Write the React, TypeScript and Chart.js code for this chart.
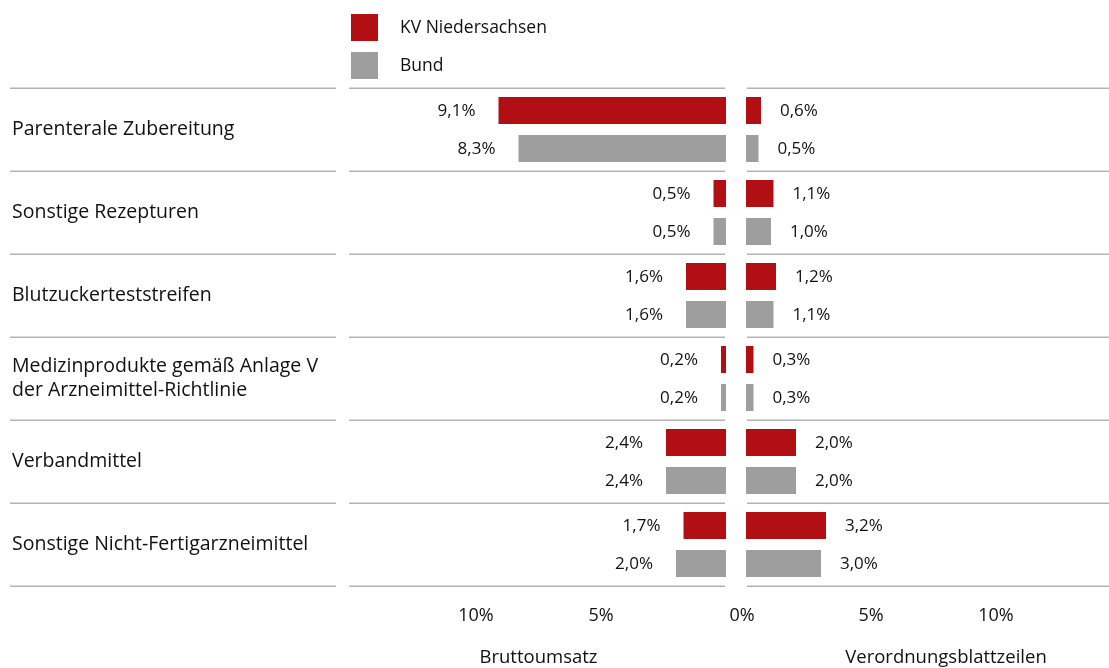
import React, { useEffect, useRef } from 'react';
import { Chart, registerables } from 'chart.js';

Chart.register(...registerables);

// ---- data ----
const categories: (string | string[])[] = [
  'Parenterale Zubereitung',
  'Sonstige Rezepturen',
  'Blutzuckerteststreifen',
  ['Medizinprodukte gemäß Anlage V', 'der Arzneimittel-Richtlinie'],
  'Verbandmittel',
  'Sonstige Nicht-Fertigarzneimittel',
];
const seriesNames = ['KV Niedersachsen', 'Bund'];
const umsatzKV = [9.1, 0.5, 1.6, 0.2, 2.4, 1.7];
const umsatzBund = [8.3, 0.5, 1.6, 0.2, 2.4, 2.0];
const vbzKV = [0.6, 1.1, 1.2, 0.3, 2.0, 3.2];
const vbzBund = [0.5, 1.0, 1.1, 0.3, 2.0, 3.0];
const leftTicks = [10, 5];
const rightTicks = [5, 10];
const tickLabels = ['10%', '5%', '0%', '5%', '10%'];
const sideTitles = ['Bruttoumsatz', 'Verordnungsblattzeilen'];

// ---- style ----
const RED = '#b20f14';
const GRAY = '#9e9e9e';
const LINE = '#b4b4b4';
const FONT = '"Open Sans", sans-serif';
const TEXT = '#111111';
const GAP = 0.4; // half gap between the two halves, in axis units

const fmt = (v: number) => v.toFixed(1).replace('.', ',') + '%';

const overlayPlugin = {
  id: 'overlay',
  afterDraw(chart: any) {
    const { ctx, chartArea } = chart;
    const xs = chart.scales.x;
    const ys = chart.scales.y;
    ctx.save();
    // separators
    ctx.strokeStyle = LINE;
    ctx.lineWidth = 1.5;
    const segs = [
      [10, 336],
      [chartArea.left, xs.getPixelForValue(-GAP) - 1],
      [xs.getPixelForValue(GAP) + 1, chartArea.right],
    ];
    for (let i = 0; i <= categories.length; i++) {
      const y = Math.round(ys.getPixelForValue(i - 0.5)) + 0.25;
      for (const [a, b] of segs) {
        ctx.beginPath();
        ctx.moveTo(a, y);
        ctx.lineTo(b, y);
        ctx.stroke();
      }
    }
    // legend
    ctx.font = `17.5px ${FONT}`;
    ctx.textBaseline = 'middle';
    ctx.textAlign = 'left';
    [RED, GRAY].forEach((c, i) => {
      const top = 14 + i * 38;
      ctx.fillStyle = c;
      ctx.fillRect(chartArea.left + 2, top, 27, 27);
      ctx.fillStyle = TEXT;
      ctx.fillText(seriesNames[i], chartArea.left + 51, top + 14);
    });
    // value labels
    ctx.font = `17px ${FONT}`;
    chart.data.datasets.forEach((ds: any, di: number) => {
      const meta = chart.getDatasetMeta(di);
      const left = ds.side === 'left';
      meta.data.forEach((bar: any, i: number) => {
        const v = ds.raw[i];
        ctx.textAlign = left ? 'right' : 'left';
        const xEdge = left ? Math.min(bar.x, bar.base) - 23 : Math.max(bar.x, bar.base) + 19;
        ctx.fillStyle = TEXT;
        ctx.fillText(fmt(v), xEdge, bar.y + 0.5);
      });
    });
    // side titles
    ctx.font = `18.5px ${FONT}`;
    ctx.textAlign = 'center';
    ctx.fillText(sideTitles[0], xs.getPixelForValue(-(GAP + 7.5)), 658);
    ctx.fillText(sideTitles[1], xs.getPixelForValue(GAP + 8), 658);
    ctx.restore();
  },
};

export default function App() {
  const ref = useRef<HTMLCanvasElement>(null);
  useEffect(() => {
    if (!ref.current) return;
    const mk = (label: string, raw: number[], side: 'left' | 'right', color: string, stack: string) => ({
      label,
      raw,
      side,
      stack,
      data: raw.map((v) => (side === 'left' ? [-GAP - v, -GAP] : [GAP, GAP + v])),
      backgroundColor: color,
      borderWidth: 0,
      barPercentage: 0.71,
      categoryPercentage: 0.916,
    });
    const chart = new Chart(ref.current, {
      type: 'bar',
      data: {
        labels: categories,
        datasets: [
          mk(seriesNames[0] + ' L', umsatzKV, 'left', RED, 'kv'),
          mk(seriesNames[0] + ' R', vbzKV, 'right', RED, 'kv'),
          mk(seriesNames[1] + ' L', umsatzBund, 'left', GRAY, 'bund'),
          mk(seriesNames[1] + ' R', vbzBund, 'right', GRAY, 'bund'),
        ] as any,
      },
      options: {
        indexAxis: 'y',
        animation: false,
        responsive: false,
        layout: { padding: { left: 12, top: 88, right: 0, bottom: 0 } },
        plugins: { legend: { display: false }, tooltip: { enabled: false } },
        scales: {
          x: {
            type: 'linear',
            stacked: false,
            min: -15.48,
            max: 14.92,
            grid: { display: false, drawTicks: false },
            border: { display: false },
            afterBuildTicks: (scale: any) => {
              scale.ticks = [
                ...leftTicks.map((t) => ({ value: -(GAP + t) })),
                { value: 0.24 },
                ...rightTicks.map((t) => ({ value: GAP + t })),
              ];
            },
            ticks: {
              padding: 19,
              color: TEXT,
              font: { family: FONT, size: 18 },
              maxRotation: 0,
              autoSkip: false,
              callback: (_v: any, i: number) => tickLabels[i],
            },
            afterFit: (scale: any) => {
              scale.height = 82;
            },
          },
          y: {
            type: 'category',
            grid: { display: false, drawTicks: false },
            border: { display: false },
            ticks: {
              crossAlign: 'far',
              color: TEXT,
              font: { family: FONT, size: 19.5, lineHeight: 1.23 },
              autoSkip: false,
            },
            afterFit: (scale: any) => {
              scale.width = 337;
            },
          },
        } as any,
      },
      plugins: [overlayPlugin],
    });
    return () => chart.destroy();
  }, []);
  return (
    <div style={{ position: 'fixed', left: 0, top: 0, width: 1109, height: 668, background: '#fff' }}>
      <canvas ref={ref} width={1109} height={668} />
    </div>
  );
}
